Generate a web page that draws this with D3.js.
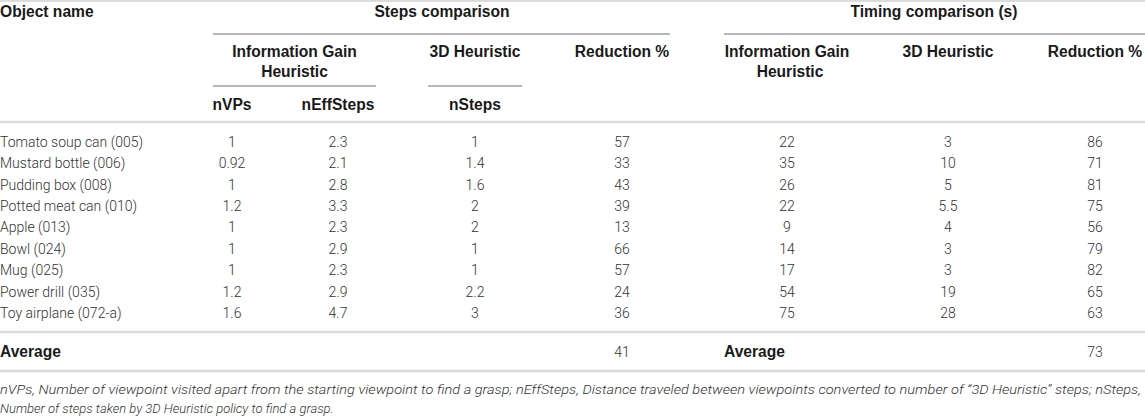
<!DOCTYPE html>
<html>
<head>
<meta charset="utf-8">
<script src="https://cdn.jsdelivr.net/npm/d3@7"></script>
<style>
  html, body { margin: 0; padding: 0; background: #fff; }
  svg { display: block; }
</style>
</head>
<body>
<svg id="chart" width="1145" height="417"></svg>
<script>
// ---- data ----
const objects = ["Tomato soup can (005)", "Mustard bottle (006)", "Pudding box (008)", "Potted meat can (010)",
  "Apple (013)", "Bowl (024)", "Mug (025)", "Power drill (035)", "Toy airplane (072-a)"];
const nVPs = [1, 0.92, 1, 1.2, 1, 1, 1, 1.2, 1.6];
const nEffSteps = [2.3, 2.1, 2.8, 3.3, 2.3, 2.9, 2.3, 2.9, 4.7];
const nSteps = [1, 1.4, 1.6, 2, 2, 1, 1, 2.2, 3];
const stepsReduction = [57, 33, 43, 39, 13, 66, 57, 24, 36];
const igTime = [22, 35, 26, 22, 9, 14, 17, 54, 75];
const heurTime = [3, 10, 5, 5.5, 4, 3, 3, 19, 28];
const timeReduction = [86, 71, 81, 75, 56, 79, 82, 65, 63];
const stepsAverage = 41;
const timeAverage = 73;
const columnKeys = ["nVPs", "nEffSteps", "nSteps", "stepsRed", "igTime", "heurTime", "timeRed"];
const columnValues = [nVPs, nEffSteps, nSteps, stepsReduction, igTime, heurTime, timeReduction];
const footnoteLines = [
  "nVPs, Number of viewpoint visited apart from the starting viewpoint to find a grasp; nEffSteps, Distance traveled between viewpoints converted to number of \u201C3D Heuristic\u201D steps; nSteps,",
  "Number of steps taken by 3D Heuristic policy to find a grasp."
];

// ---- layout ----
const svg = d3.select("#chart");
const W = 1145;
const x = d3.scaleOrdinal().domain(columnKeys).range([232, 338, 475, 622, 787, 948, 1095]);
const y = d3.scalePoint().domain(objects).range([142, 313]);

const bodyFont = "Roboto, 'Liberation Sans', sans-serif";
const boldFont = "'Liberation Sans', Arial, sans-serif";
const textColor = "#333";
const headColor = "#1a1a1a";
const lightRule = "#dcdcdc";
const darkRule = "#6e6e6e";
const headSize = 15.6;

function rule(x1, x2, yy, color, w) {
  svg.append("line").attr("x1", x1).attr("x2", x2).attr("y1", yy).attr("y2", yy)
    .attr("stroke", color).attr("stroke-width", w);
}
function head(txt, xx, yy, anchor) {
  svg.append("text").attr("x", xx).attr("y", yy).attr("dy", "0.35em")
    .attr("text-anchor", anchor || "middle")
    .attr("font-family", boldFont).attr("font-weight", "bold").attr("font-size", headSize)
    .attr("fill", headColor).text(txt);
}

// rules
rule(0, W, 1, lightRule, 2);
rule(213, 670, 34, darkRule, 1);
rule(724, W, 34, darkRule, 1);
rule(213, 376, 86, darkRule, 1);
rule(428, 522, 86, darkRule, 1);
rule(0, W, 122, lightRule, 2.5);
rule(0, W, 332, lightRule, 2.5);
rule(0, W, 371, lightRule, 2.5);

// header texts
head("Object name", 0, 12, "start");
head("Steps comparison", 442, 12);
head("Timing comparison (s)", 934, 12);
head("Information Gain", 294.5, 52);
head("Heuristic", 294.5, 72);
head("3D Heuristic", x("nSteps"), 52);
head("Reduction %", x("stepsRed"), 52);
head("Information Gain", x("igTime"), 52);
head("Heuristic", x("igTime") + 3, 72);
head("3D Heuristic", x("heurTime"), 52);
head("Reduction %", x("timeRed"), 52);
head("nVPs", x("nVPs"), 105);
head("nEffSteps", x("nEffSteps"), 105);
head("nSteps", x("nSteps"), 105);

// body rows
const rows = svg.append("g").selectAll("g.row").data(objects).join("g").attr("class", "row")
  .attr("transform", d => `translate(0,${y(d)})`);
rows.append("text").attr("x", 0).attr("dy", "0.35em")
  .attr("font-family", bodyFont).attr("font-weight", 300).attr("font-size", 14)
  .attr("fill", textColor).text(d => d);
columnKeys.forEach((k, ci) => {
  rows.append("text").attr("x", x(k)).attr("dy", "0.35em").attr("text-anchor", "middle")
    .attr("font-family", bodyFont).attr("font-weight", 300).attr("font-size", 14)
    .attr("fill", textColor).text((d, i) => columnValues[ci][i]);
});

// averages
head("Average", 0, 352, "start");
head("Average", 724, 352, "start");
[["stepsRed", stepsAverage], ["timeRed", timeAverage]].forEach(([k, v]) => {
  svg.append("text").attr("x", x(k)).attr("y", 352).attr("dy", "0.35em").attr("text-anchor", "middle")
    .attr("font-family", bodyFont).attr("font-weight", 300).attr("font-size", 14)
    .attr("fill", textColor).text(v);
});

// footnote
footnoteLines.forEach((t, i) => {
  const el = svg.append("text").attr("x", 0).attr("y", 389 + i * 19).attr("dy", "0.35em")
    .attr("font-family", bodyFont).attr("font-weight", 300).attr("font-style", "italic")
    .attr("font-size", 13).attr("fill", textColor).text(t);
  if (i === 0) el.attr("textLength", 1141).attr("lengthAdjust", "spacingAndGlyphs");
});
</script>
</body>
</html>
